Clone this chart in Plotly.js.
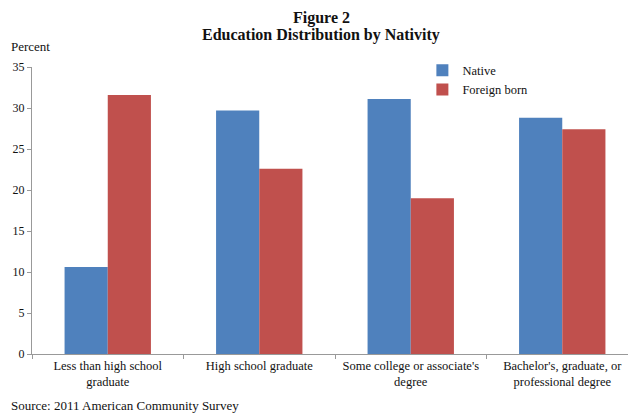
<!DOCTYPE html>
<html>
<head>
<meta charset="utf-8">
<script src="https://cdn.plot.ly/plotly-3.0.1.min.js"></script>
<style>html,body{margin:0;padding:0;background:#fff;}#chart{width:628px;height:414px;}</style>
</head>
<body>
<div id="chart"></div>
<script>
const categories = ["Less than high school<br>graduate", "High school graduate", "Some college or associate's<br>degree", "Bachelor's, graduate, or<br>professional degree"];
const nativeValues = [10.6, 29.7, 31.1, 28.8];
const foreignValues = [31.6, 22.6, 19.0, 27.4];
const seriesNames = ["Native", "Foreign born"];
const yTicks = [0, 5, 10, 15, 20, 25, 30, 35];
const titleLines = ["Figure 2", "Education Distribution by Nativity"];

const font = "'Liberation Serif', 'Times New Roman', serif";
const traces = [
  {type: "bar", name: seriesNames[0], x: categories, y: nativeValues, marker: {color: "#4F81BD"}},
  {type: "bar", name: seriesNames[1], x: categories, y: foreignValues, marker: {color: "#C0504D"}}
];
const layout = {
  width: 628, height: 414,
  margin: {l: 32, r: 0, t: 67, b: 60, pad: 0},
  paper_bgcolor: "#fff", plot_bgcolor: "#fff",
  font: {family: font, size: 12, color: "#111"},
  barmode: "group", bargap: 0.43, bargroupgap: 0,
  xaxis: {type: "category", range: [-0.5, 3.434], showline: true, linecolor: "#999", linewidth: 1, ticks: "outside", tickson: "boundaries", ticklen: 4, tickcolor: "#999", tickfont: {family: font, size: 12.5, color: "#111"}, showgrid: false, zeroline: false, fixedrange: true},
  yaxis: {range: [0, 35], tickvals: yTicks, ticktext: yTicks.map(String), showline: true, linecolor: "#999", linewidth: 1, ticks: "outside", ticklen: 4, tickcolor: "#999", showgrid: false, zeroline: false, tickfont: {family: font, size: 12, color: "#111"}, fixedrange: true},
  legend: {x: 0.655, xanchor: "left", y: 1.04, yanchor: "top", font: {family: font, size: 12.5, color: "#111"}, bgcolor: "rgba(0,0,0,0)", itemwidth: 30, tracegroupgap: 0},
  annotations: [
    {text: "<b>" + titleLines[0] + "</b>", xref: "paper", yref: "paper", x: 0.485, xanchor: "center", y: 1.171, yanchor: "middle", showarrow: false, font: {family: font, size: 16, color: "#111"}},
    {text: "<b>" + titleLines[1] + "</b>", xref: "paper", yref: "paper", x: 0.485, xanchor: "center", y: 1.111, yanchor: "middle", showarrow: false, font: {family: font, size: 16, color: "#111"}},
    {text: "Percent", xref: "paper", yref: "paper", x: -0.039, xanchor: "left", y: 1.07, yanchor: "middle", showarrow: false, font: {family: font, size: 13, color: "#111"}},
    {text: "Source: 2011 American Community Survey", xref: "paper", yref: "paper", x: -0.039, xanchor: "left", y: -0.178, yanchor: "middle", showarrow: false, font: {family: font, size: 13, color: "#111"}}
  ],
  showlegend: true
};
Plotly.newPlot("chart", traces, layout, {displayModeBar: false, staticPlot: true});
</script>
</body>
</html>
